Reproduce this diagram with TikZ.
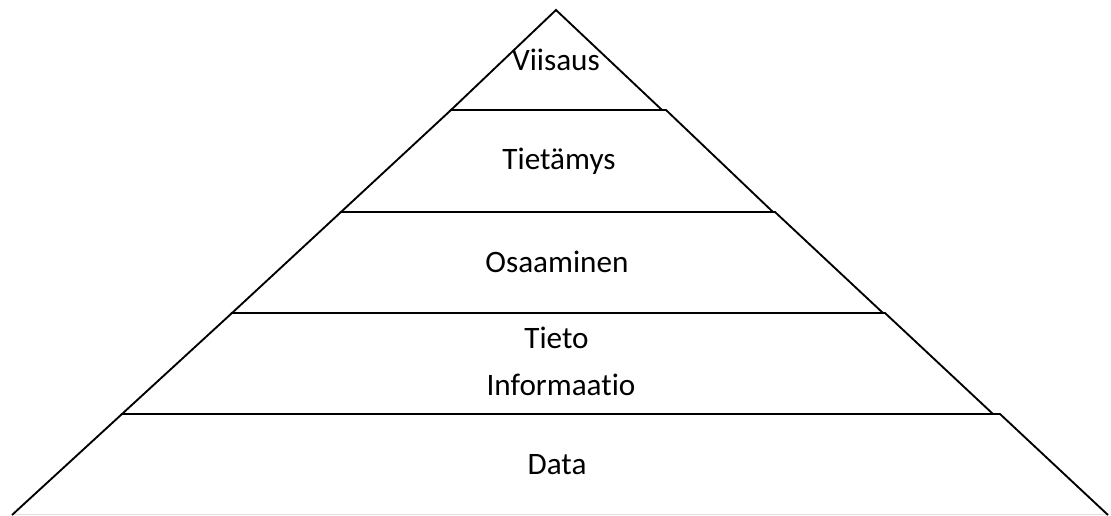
\documentclass[tikz,border=0pt]{standalone}
\usepackage{fontspec}
\setmainfont[Ligatures=NoCommon]{Carlito}
\begin{document}
\begin{tikzpicture}[x=0.75pt,y=-0.75pt,
  layer/.style={draw=black,line width=1.4pt,line join=miter},
  label/.style={anchor=base,inner sep=0pt,font=\fontsize{23.4}{28}\selectfont}]
\useasboundingbox (0,0) rectangle (1111,515);
% faint bottom edge
\draw[black!12,line width=0.75pt] (12,514.5) -- (1108,514.5);
% pyramid layers, drawn as separate stacked shapes
\draw[layer] (556,10) -- (662,110) -- (451,110) -- cycle;
\draw[layer] (451,110) -- (666,110) -- (773,212) -- (341,212) -- cycle;
\draw[layer] (341,212) -- (775,212) -- (883,313) -- (232,313) -- cycle;
\draw[layer] (232,313) -- (885,313) -- (993,414) -- (122,414) -- cycle;
\draw[layer] (122,414) -- (1000,414) -- (1108,515) (12,515) -- (122,414);
% labels
\node[label] (viisaus) at (556,70) {Viisaus};
\node[label] (tietamys) at (559,169) {Tietämys};
\node[label] (osaaminen) at (557,272) {Osaaminen};
\node[label] (tieto) at (556.5,348) {Tieto};
\node[label] (informaatio) at (561,395) {Informaatio};
\node[label] (data) at (557,474) {Data};
\end{tikzpicture}
\end{document}
